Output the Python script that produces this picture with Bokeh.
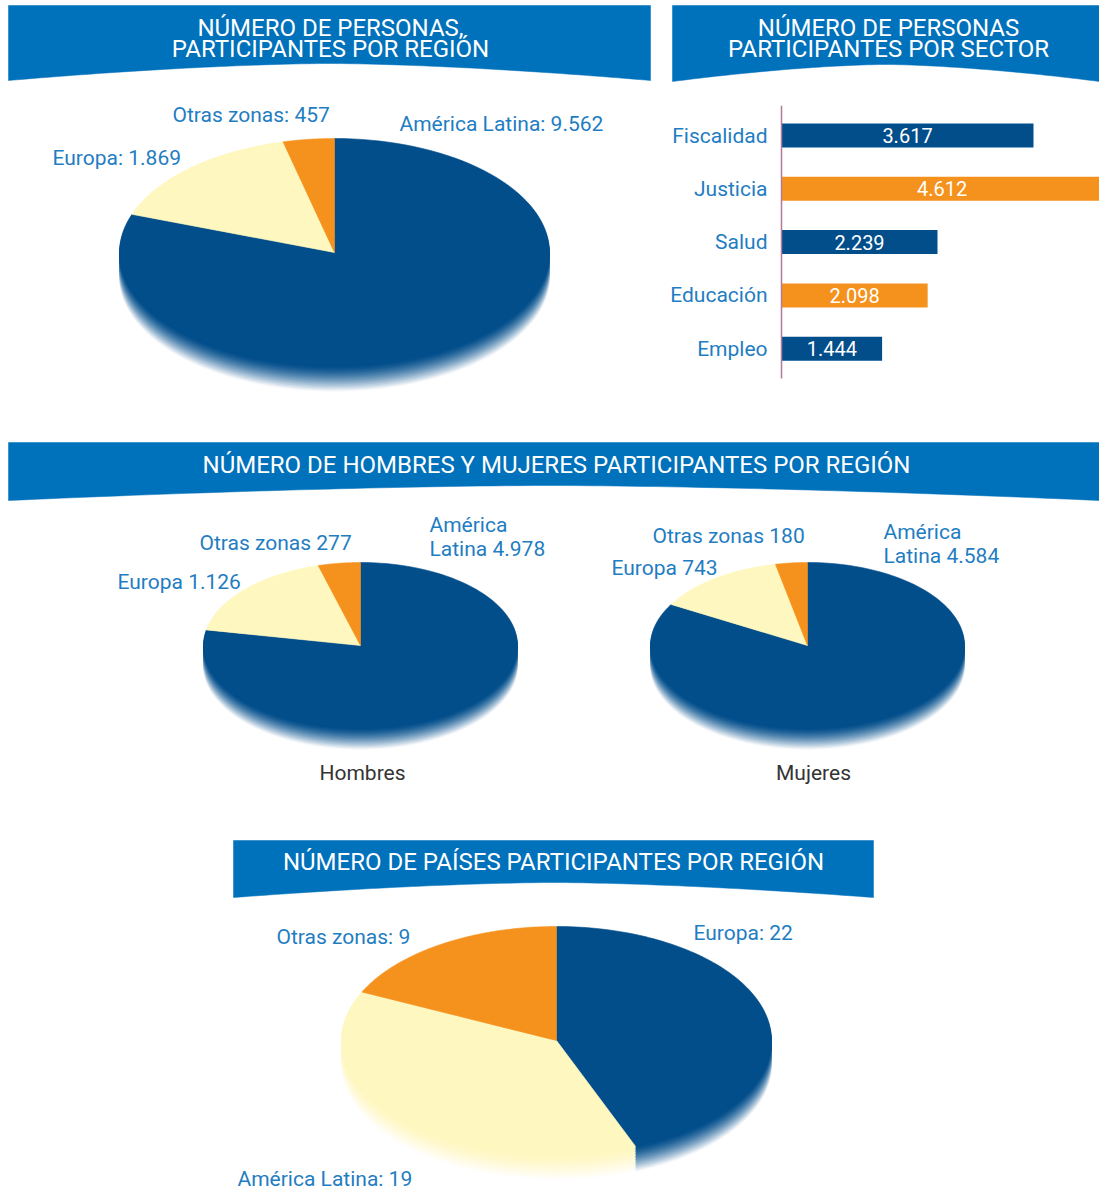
import numpy as np
from bokeh.plotting import figure
from bokeh.models import Range1d, ColumnDataSource
from bokeh.core.properties import value
from bokeh.embed import file_html
from bokeh.resources import INLINE

# ---------------- data ----------------
regiones = ["América Latina", "Europa", "Otras zonas"]
personas_region = [9562, 1869, 457]

hombres = [4978, 1126, 277]
mujeres = [4584, 743, 180]

regiones_paises = ["Europa", "América Latina", "Otras zonas"]
paises = [22, 19, 9]

sectores = ["Fiscalidad", "Justicia", "Salud", "Educación", "Empleo"]
personas_sector = [3617, 4612, 2239, 2098, 1444]

# ---------------- styles ----------------
BANNER = "#0071bb"
DARK = "#024e8b"
YELLOW = "#fff7c0"
ORANGE = "#f5921e"
LABEL = "#1f7dc2"
FONT = value("Roboto")

slice_colors = [DARK, YELLOW, ORANGE]

W, H = 1099, 1191


def fmt(v):
    return f"{v:,}".replace(",", ".")


p = figure(width=W, height=H, x_range=Range1d(0, W), y_range=Range1d(H, 0),
           output_backend="svg", toolbar_location=None, min_border=0,
           x_axis_location=None, y_axis_location=None)
p.grid.visible = False
p.outline_line_color = None
p.background_fill_color = "white"
p.border_fill_color = "white"


def banner(x0, x1, ytop, yedge, ymid, xmid):
    xs_b = np.linspace(x1, x0, 80)
    w = np.where(xs_b >= xmid, (xs_b - xmid) / (x1 - xmid), (xmid - xs_b) / (xmid - x0))
    ys_b = ymid + (yedge - ymid) * w ** 1.6
    xs = [x0, x1] + list(xs_b)
    ys = [ytop, ytop] + list(ys_b)
    p.patch(xs, ys, fill_color=BANNER, line_color=BANNER, line_width=0.5)


def title(lines, xc, ys, size="24px"):
    p.text(x=[xc] * len(lines), y=ys, text=lines, text_color="white", text_font=FONT,
           text_font_size=size, text_align="center", text_baseline="middle")


def mix(c, t):
    c = c.lstrip("#")
    r, g, b = int(c[0:2], 16), int(c[2:4], 16), int(c[4:6], 16)
    r = int(r + (255 - r) * t); g = int(g + (255 - g) * t); b = int(b + (255 - b) * t)
    return "#%02x%02x%02x" % (r, g, b)


def pie3d(vals, cx, cy, rx, ry, depth, nlayers=16):
    total = float(sum(vals))
    cum = np.concatenate([[0], np.cumsum(vals)]) / total
    xs, ys, cols = [], [], []
    for k in list(range(nlayers, 0, -1)) + [0]:
        dy = depth * k / nlayers
        t = (k / nlayers) ** 1.4 if k else 0.0
        for i in range(len(vals)):
            a0 = np.deg2rad(90 - 360 * cum[i])
            a1 = np.deg2rad(90 - 360 * cum[i + 1])
            th = np.linspace(a0, a1, 120)
            xs.append([cx] + list(cx + rx * np.cos(th)))
            ys.append([cy + dy] + list(cy + dy - ry * np.sin(th)))
            cols.append(mix(slice_colors[i], t * 0.97))
    src = ColumnDataSource(dict(xs=xs, ys=ys, c=cols))
    p.patches("xs", "ys", source=src, fill_color="c", line_color="c", line_width=0.6)


def labels(xs, ys, texts, align="left", color=LABEL, size="21px"):
    p.text(x=xs, y=ys, text=texts, text_color=color, text_font=FONT,
           text_font_size=size, text_align=align, text_baseline="middle")


# ---------------- banners ----------------
banner(8, 650, 5, 80, 63, 329)
title(["NÚMERO DE PERSONAS,", "PARTICIPANTES POR REGIÓN"], 330, [27, 48])
banner(672, 1099, 5, 81, 64, 885)
title(["NÚMERO DE PERSONAS", "PARTICIPANTES POR SECTOR"], 888, [27, 48])
banner(8, 1099, 442, 500, 485, 548)
title(["NÚMERO DE HOMBRES Y MUJERES PARTICIPANTES POR REGIÓN"], 556, [464])
banner(233, 873, 840, 897, 882, 553)
title(["NÚMERO DE PAÍSES PARTICIPANTES POR REGIÓN"], 553, [861])

# ---------------- pie 1 ----------------
pie3d(personas_region, 334, 252, 215, 114, 25)
labels([399, 52, 172],
       [123, 157, 114],
       [f"{regiones[0]}: {fmt(personas_region[0])}",
        f"{regiones[1]}: {fmt(personas_region[1])}",
        f"{regiones[2]}: {fmt(personas_region[2])}"])

# ---------------- bar chart ----------------
k = 252 / 3617.0
p.extra_x_ranges = {"bars": Range1d(-781 / k, (W - 781) / k)}
sp = 53.3
p.extra_y_ranges = {"cats": Range1d((H - 135) / sp, (0 - 135) / sp)}
idx = list(range(len(sectores)))
bar_cols = [DARK if i % 2 == 0 else ORANGE for i in idx]
bsrc = ColumnDataSource(dict(y=idx, v=personas_sector, c=bar_cols,
                             mid=[v / 2 for v in personas_sector],
                             lab=[fmt(v) for v in personas_sector], cat=sectores))
p.hbar(y="y", left=0, right="v", height=24 / sp, fill_color="c", line_color=None,
       source=bsrc, x_range_name="bars", y_range_name="cats")
p.segment(x0=[0], x1=[0], y0=[-0.56], y1=[4.56], line_color="#b27a98", line_width=1.5,
          x_range_name="bars", y_range_name="cats")
p.text(x="mid", y="y", text="lab", source=bsrc, text_color="white", text_font=FONT,
       text_font_size="20px", text_align="center", text_baseline="middle",
       x_range_name="bars", y_range_name="cats")
p.text(x=0, y="y", text="cat", source=bsrc, text_color=LABEL, text_font=FONT,
       text_font_size="21px", text_align="right", text_baseline="middle", x_offset=-14,
       x_range_name="bars", y_range_name="cats")

# ---------------- pies 2 & 3 ----------------
pie3d(hombres, 360, 645, 157, 83, 21)
labels([429, 429, 117, 199], [524, 548, 581, 542],
       ["América", f"Latina {fmt(hombres[0])}",
        f"{regiones[1]} {fmt(hombres[1])}", f"{regiones[2]} {fmt(hombres[2])}"])
labels([362], [772], ["Hombres"], align="center", color="#333333")

pie3d(mujeres, 807, 645, 157, 83, 21)
labels([883, 883, 611, 652], [531, 555, 567, 535],
       ["América", f"Latina {fmt(mujeres[0])}",
        f"{regiones[1]} {fmt(mujeres[1])}", f"{regiones[2]} {fmt(mujeres[2])}"])
labels([813], [772], ["Mujeres"], align="center", color="#333333")

# ---------------- pie 4 ----------------
pie3d(paises, 556, 1040, 215, 114, 25)
labels([693, 237, 276], [932, 1178, 936],
       [f"{regiones_paises[0]}: {paises[0]}",
        f"{regiones_paises[1]}: {paises[1]}",
        f"{regiones_paises[2]}: {paises[2]}"])

open("out.html", "w").write(file_html(p, INLINE))
